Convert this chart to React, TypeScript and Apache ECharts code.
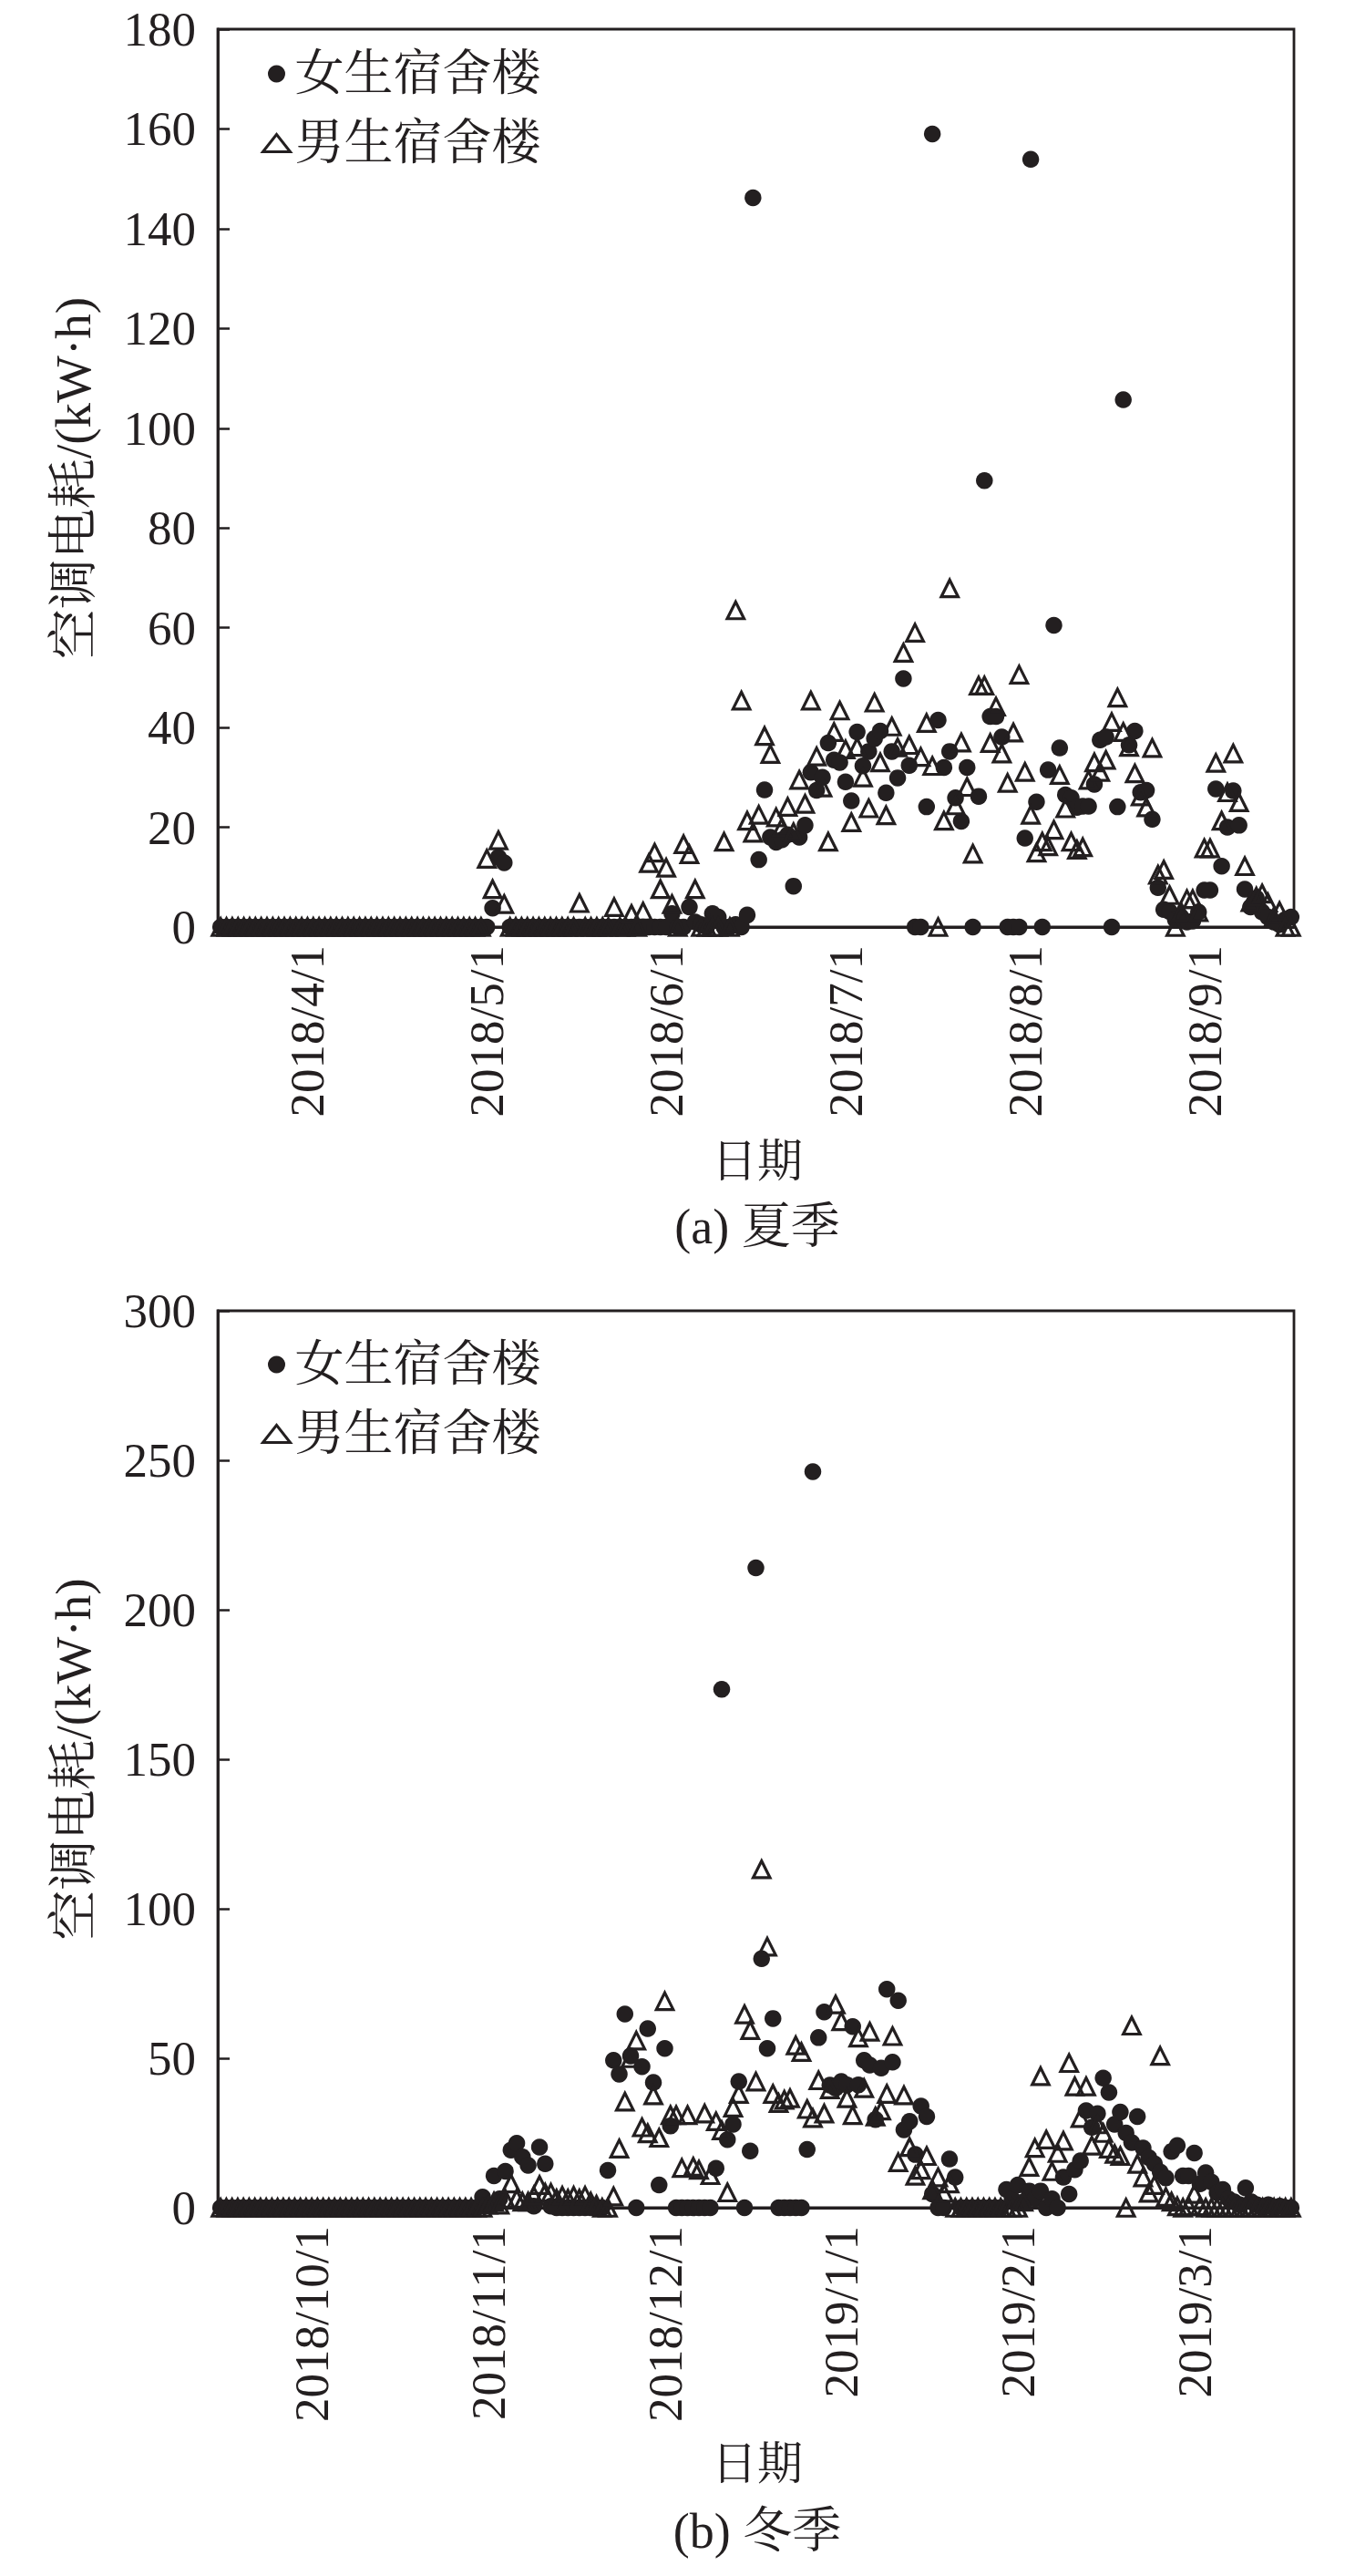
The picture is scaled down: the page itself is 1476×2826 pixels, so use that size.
import React, { useEffect, useRef } from "react";
import * as echarts from "echarts";

// ---------- data ----------
// (a) summer, one value per day-row, 186 rows
const summerWomen = [
  0,0,0,0,0,0,0,0,0,0,
  0,0,0,0,0,0,0,0,0,0,
  0,0,0,0,0,0,0,0,0,0,
  0,0,0,0,0,0,0,0,0,0,
  0,0,0,0,0,0,0,3.8,14.0,12.9,
  0,0,0,0,0,0,0,0,0,0,
  0,0,0,0,0,0,0,0,0,0,
  0,0,0,0,0,0,0,0,2.7,0,
  0,4.0,1,0.5,0,2.7,2.0,0,0,0.5,
  0,2.4,146.2,13.5,27.5,18,17,17.5,18.5,8.2,
  18,20.4,31,27.4,30,36.9,33.5,33,29.1,25.3,
  39.1,32.3,35.2,37.8,39.3,26.9,35.2,29.9,49.8,32.4,
  0,0,24.1,159,41.5,32,35.2,25.9,21.2,32,
  0,26.2,89.5,42.2,42.2,38.1,0,0,0,17.8,
  153.9,25.1,0,31.5,60.5,35.9,26.5,25.9,24,24.2,
  24.2,28.6,37.5,38.1,0,24.1,105.7,36.5,39.3,27,
  27.4,21.6,7.9,3.5,3.1,1.5,2,1,1.2,3,
  7.4,7.4,27.7,12.2,20,27.3,20.4,7.6,4.0,5.8,
  3,2,1,0.5,1.5,2
];
const summerMen = [
  0,0,0,0,0,0,0,0,0,0,
  0,0,0,0,0,0,0,0,0,0,
  0,0,0,0,0,0,0,0,0,0,
  0,0,0,0,0,0,0,0,0,0,
  0,0,0,0,0,0,13.7,7.6,17.4,4.6,
  0,0,0,0,0,0,0,0,0,0,
  0,0,4.8,0,0,0,0,0,4.0,0,
  0,2.6,0,3.1,12.8,14.9,7.6,11.9,4.6,0,
  16.6,14.6,7.6,0,0,0,0,17.1,0,63.5,
  45.4,21.3,18.9,22.5,38.3,34.7,22,20,24.1,19,
  29.5,24.7,45.4,34.2,28,17.1,39.1,43.4,35.6,21.0,
  36.1,30,23.8,45.0,33,22.4,40.2,36,55.0,36.5,
  59.0,34.1,40.9,32.3,0,21.3,67.9,24.4,37.0,28.1,
  14.7,48.4,48.4,36.9,44.2,34.8,28.9,39.0,50.6,31.1,
  22.5,14.9,17.1,16.2,19.5,30.5,23.8,17.1,15.5,16,
  29.5,33.0,31.1,33.5,41.1,46.0,39.1,36.1,30.8,26.2,
  24,35.9,10.5,11.5,6.4,0,3,5.6,5.6,3,
  15.8,15.8,32.9,21.3,27,34.8,25.0,12.2,5,6.1,
  6.7,4.9,2,3.2,0,0
];
const summerTickRows = [15, 46, 77, 108, 139, 170];
const summerTickLabels = ["2018/4/1", "2018/5/1", "2018/6/1", "2018/7/1", "2018/8/1", "2018/9/1"];

// (b) winter, 189 rows
const winterWomen = [
  0,0,0,0,0,0,0,0,0,0,
  0,0,0,0,0,0,0,0,0,0,
  0,0,0,0,0,0,0,0,0,0,
  0,0,0,0,0,0,0,0,0,0,
  0,0,0,0,0,0,3.6,1,10.7,3.0,
  12.2,19.3,21.6,17,14.2,0.5,20.3,14.7,0.5,0,
  0,0,0,0,0,0,0,0,12.5,49.3,
  44.7,64.8,50.8,0,47.2,59.9,41.9,7.6,53.3,27.4,
  0,0,0,0,0,0,0,13.2,173.4,22.8,
  27.9,42.2,0,19,214,83.3,53.3,63.3,0,0,
  0,0,0,19.5,246.2,56.9,65.5,41,40,42.2,
  41.1,60.6,41.1,49.3,47.7,29.5,46.7,73.1,48.7,69.3,
  26.1,28.9,17.8,34,30.5,4.6,0,0,16.3,10.2,
  0,0,0,0,0,0,0,0,6.1,3,
  7.6,2,5.6,3,5.6,0,3.0,0,10.2,4.6,
  12.7,15.7,32.5,26.9,31.5,43.4,38.6,27.9,32,25,
  21.8,30.5,20,16.8,14.7,12,10,18.8,20.8,10.7,
  10.7,18.3,8,11.7,8.6,5,6.1,3,2,1,
  6.6,2,1,0,1,0,0.5,0,0
];
const winterMen = [
  0,0,0,0,0,0,0,0,0,0,
  0,0,0,0,0,0,0,0,0,0,
  0,0,0,0,0,0,0,0,0,0,
  0,0,0,0,0,0,0,0,0,0,
  0,0,0,0,0,0,0,1,2,1,
  3,8.1,3,2,2,4,7.6,5,5,3,
  4,3,4,3,4,2,1,0,0,3.8,
  19.8,35.5,50,55.9,26.9,24.9,37.6,23.4,69.1,31,
  31,13.3,31,13.7,12.7,31.5,10.9,28.9,25.9,5.1,
  33.5,38.1,64.7,59.4,42.2,113.2,87.3,38.1,35,36.1,
  36.6,54.3,52.1,33,30,42.6,31.5,39.6,68,62.4,
  36.6,31,56.9,40,58.9,30.5,32.5,38.1,57.4,15.2,
  37.6,20.3,10.7,12.7,17.3,6,10.2,5,8.1,0,
  0,0,0,0,0,0,0,0,0,0,
  0,2,13.7,20,44.0,22.8,12.2,18.3,22.4,48.4,
  40.6,30,40.6,20.8,27.9,25,19.8,18,17.3,0,
  60.9,14.7,10.2,5,7.6,50.8,3.6,2,0.5,0,
  0.5,4.6,0.5,0,0,0,0,0,0,0,
  0,0,0,0,0,0,0,0,0
];
const winterTickRows = [16, 47, 78, 109, 140, 171];
const winterTickLabels = ["2018/10/1", "2018/11/1", "2018/12/1", "2019/1/1", "2019/2/1", "2019/3/1"];

const seriesNames = ["女生宿舍楼", "男生宿舍楼"];
const yName = "空调电耗/(kW·h)";
const xName = "日期";
const captions = ["(a) 夏季", "(b) 冬季"];

// ---------- styling ----------
const INK = "#231f20";
const FONT = "Liberation Serif, Times New Roman, Noto Serif CJK SC, Noto Sans CJK SC, serif";
const HOLLOW = "rgba(0,0,0,0)";

function buildXAxis(gridIndex: number, rows: string[], tickRows: number[], tickLabels: string[]) {
  return {
    gridIndex,
    type: "category",
    data: rows,
    boundaryGap: true,
    axisLine: { show: true, onZero: false, lineStyle: { color: INK, width: 2.8 } },
    axisTick: { show: false },
    splitLine: { show: false },
    axisLabel: {
      interval: (index: number) => tickRows.indexOf(index) >= 0,
      formatter: (_v: string, index: number) => {
        const k = tickRows.indexOf(index);
        return k >= 0 ? tickLabels[k] : "";
      },
      rotate: 90,
      margin: 20,
      fontSize: 53,
      fontFamily: FONT,
      color: INK,
    },
  };
}

function buildYAxis(gridIndex: number, max: number, interval: number) {
  return {
    gridIndex,
    type: "value",
    min: 0,
    max,
    interval,
    name: yName,
    nameLocation: "middle",
    nameGap: 131,
    nameTextStyle: { fontSize: 55, fontFamily: FONT, color: INK },
    axisLine: { show: true, lineStyle: { color: INK, width: 2.8 } },
    axisTick: { show: true, inside: true, length: 13, lineStyle: { color: INK, width: 2.5 } },
    splitLine: { show: false },
    axisLabel: { fontSize: 53, margin: 24, fontFamily: FONT, color: INK },
  };
}

function buildLegend(top: number) {
  return {
    orient: "vertical",
    left: 287,
    top,
    padding: 0,
    itemWidth: 30,
    itemHeight: 19,
    itemGap: 22,
    selectedMode: false,
    textStyle: { fontSize: 54, lineHeight: 54, fontFamily: FONT, color: INK },
    data: [
      { name: seriesNames[0], icon: "circle", itemStyle: { color: INK, borderWidth: 0, opacity: 1 } },
      { name: seriesNames[1], icon: "triangle", itemStyle: { color: HOLLOW, borderColor: INK, borderWidth: 3, opacity: 1 } },
    ],
  };
}

function womenSeries(idx: number, data: number[]) {
  return {
    type: "scatter",
    name: seriesNames[0],
    xAxisIndex: idx,
    yAxisIndex: idx,
    data,
    symbol: "circle",
    symbolSize: 18.5,
    itemStyle: { color: INK, opacity: 1 },
    silent: true,
    z: 2,
  };
}

function menSeries(idx: number, data: number[]) {
  return {
    type: "scatter",
    name: seriesNames[1],
    xAxisIndex: idx,
    yAxisIndex: idx,
    data,
    symbol: "triangle",
    symbolSize: 18.5,
    itemStyle: { color: HOLLOW, borderColor: INK, borderWidth: 3.2, opacity: 1 },
    silent: true,
    z: 3,
  };
}

function textEl(text: string, x: number, y: number, size: number) {
  return {
    type: "text",
    x,
    y,
    silent: true,
    style: { text, fontSize: size, fontFamily: FONT, fill: INK, align: "center", verticalAlign: "middle" },
  };
}

export default function App() {
  const ref = useRef<HTMLDivElement>(null);

  useEffect(() => {
    if (!ref.current) return;
    const chart = echarts.init(ref.current, undefined, { renderer: "svg" });
    const summerRows = summerWomen.map((_, i) => String(i));
    const winterRows = winterWomen.map((_, i) => String(i));
    const gridBase = { left: 239, width: 1181, show: true, borderColor: INK, borderWidth: 2.8, backgroundColor: "transparent" };

    chart.setOption({
      animation: false,
      backgroundColor: "#ffffff",
      grid: [
        { ...gridBase, top: 32, height: 985 },
        { ...gridBase, top: 1438, height: 984 },
      ],
      xAxis: [
        buildXAxis(0, summerRows, summerTickRows, summerTickLabels),
        buildXAxis(1, winterRows, winterTickRows, winterTickLabels),
      ],
      yAxis: [buildYAxis(0, 180, 20), buildYAxis(1, 300, 50)],
      legend: [buildLegend(54), buildLegend(1470)],
      series: [
        womenSeries(0, summerWomen),
        menSeries(0, summerMen),
        womenSeries(1, winterWomen),
        menSeries(1, winterMen),
      ],
      graphic: [
        textEl(xName, 831, 1274, 50),
        textEl(captions[0], 831, 1346, 54),
        textEl(xName, 831, 2703, 50),
        textEl(captions[1], 831, 2777, 54),
      ],
    });
    return () => chart.dispose();
  }, []);

  return (
    <div
      ref={ref}
      style={{ position: "absolute", left: 0, top: 0, width: 1476, height: 2826, background: "#fff" }}
    />
  );
}
